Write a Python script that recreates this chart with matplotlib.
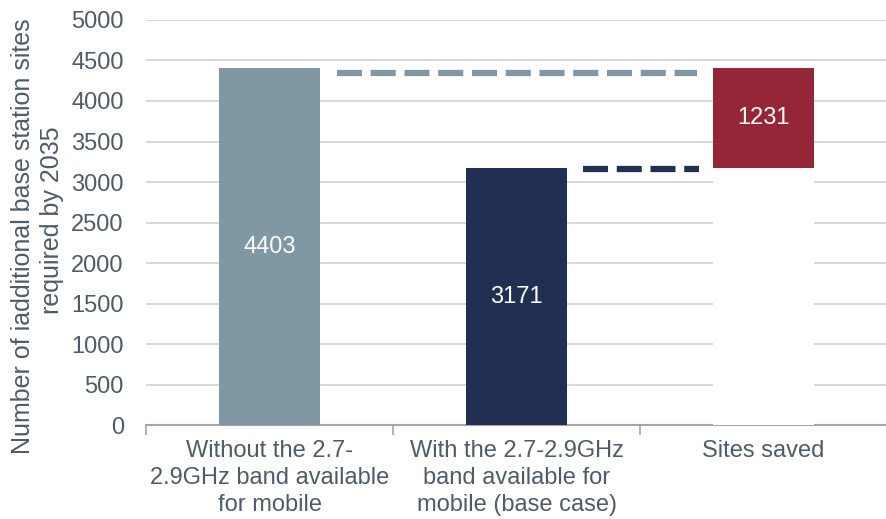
import matplotlib.pyplot as plt

plt.rcParams['font.family'] = ['Liberation Sans', 'DejaVu Sans']

categories = ['Without the 2.7-\n2.9GHz band available\nfor mobile',
              'With the 2.7-2.9GHz\nband available for\nmobile (base case)',
              'Sites saved']
without_band = 4403
with_band = 3171
saved = without_band - with_band  # 1232, chart labels it 1231
saved_label = 1231

txt = '#4f5b66'
c_gray = '#7f98a3'
c_navy = '#212f53'
c_red = '#952637'
fs = 17

fig = plt.figure(figsize=(8.87, 5.19), dpi=100)
ax = fig.add_axes([0.1646, 0.181, 0.8354, 0.7805])

x = [0, 1, 2]
w = 0.405
ax.bar(x[0], without_band, width=w, color=c_gray, zorder=3)
ax.bar(x[1], with_band, width=w, color=c_navy, zorder=3)
ax.bar(x[2], with_band, width=w, color='white', zorder=3)
ax.bar(x[2], saved, width=w, bottom=with_band, color=c_red, zorder=3)

ax.text(x[0], without_band / 2, str(without_band), color='white', fontsize=fs, ha='center', va='center', zorder=4)
ax.text(x[1], with_band / 2, str(with_band), color='white', fontsize=fs, ha='center', va='center', zorder=4)
ax.text(x[2], with_band / 2, str(with_band), color='white', fontsize=fs, ha='center', va='center', zorder=4)
ax.text(x[2], with_band + saved / 2, str(saved_label), color='white', fontsize=fs, ha='center', va='center', zorder=4)

# connector lines
ax.plot([0.275, 1.73], [without_band - 60, without_band - 60], color=c_gray, lw=4.5,
        dashes=(4, 1.4), zorder=2)
ax.plot([1.27, 1.74], [with_band - 15, with_band - 15], color=c_navy, lw=4.5,
        dashes=(4, 1.4), zorder=2)

ax.set_xlim(-0.5, 2.5)
ax.set_ylim(0, 5000)
ax.set_yticks(range(0, 5001, 500))
ax.yaxis.grid(True, color='#d9d9d9', lw=1.5, zorder=0)
ax.set_axisbelow(True)

ax.set_xticks(x)
ax.set_xticklabels(categories, fontsize=fs, color=txt, linespacing=1.29)
ax.set_xticks([-0.5, 0.5, 1.5, 2.5], minor=True)
ax.tick_params(axis='x', which='major', length=0, pad=11)
ax.tick_params(axis='x', which='minor', length=7, color='#a6a6a6', width=1.2)
ax.tick_params(axis='y', length=0, labelsize=fs, labelcolor=txt, pad=16)

for s in ['top', 'right', 'left']:
    ax.spines[s].set_visible(False)
ax.spines['bottom'].set_color('#a6a6a6')
ax.spines['bottom'].set_linewidth(1.5)

# two-line y label, lines are not centred on each other in the original
fig.text(23 / 887, 1 - 236 / 519, 'Number of iadditional base station sites', rotation=90,
         fontsize=18, color=txt, ha='center', va='center')
fig.text(52 / 887, 1 - 220 / 519, 'required by 2035', rotation=90,
         fontsize=18, color=txt, ha='center', va='center')

fig.savefig('out.png', dpi=100)
